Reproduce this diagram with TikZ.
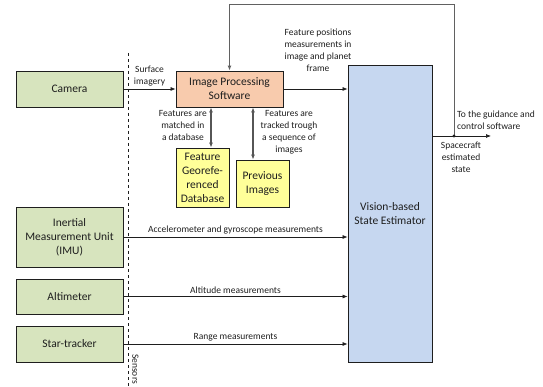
\documentclass[tikz,border=0pt]{standalone}
\usepackage{fontspec}
\setmainfont{Carlito}
\usetikzlibrary{arrows.meta,positioning,calc}
\definecolor{ink}{RGB}{30,30,30}
\definecolor{sensorfill}{RGB}{215,228,190}
\definecolor{procfill}{RGB}{248,203,173}
\definecolor{storefill}{RGB}{255,255,153}
\definecolor{estfill}{RGB}{198,215,240}
\tikzset{
    box/.style={
        rectangle,
        draw=ink,
        line width=0.8pt,
        align=center,
        text=ink,
        inner sep=1pt,
        font=\fontsize{11.5}{14}\selectfont
    },
    sensor/.style={box, fill=sensorfill, minimum width=107pt},
    proc/.style={box, fill=procfill, minimum width=107pt, minimum height=36pt},
    store/.style={box, fill=storefill, minimum width=53pt},
    estimator/.style={box, fill=estfill, minimum width=84pt, minimum height=297pt},
    flow/.style={
        -{Latex[length=5pt,width=4pt]},
        draw=ink,
        line width=0.7pt
    },
    feedback/.style={
        flow,
        draw=ink!70,
        line width=1pt
    },
    exchange/.style={
        {Latex[length=5pt,width=4pt]}-{Latex[length=5pt,width=4pt]},
        draw=ink!75,
        line width=1.1pt
    },
    annot/.style={
        font=\fontsize{9.5}{12}\selectfont,
        text=ink,
        align=center,
        inner sep=1pt
    }
}
\begin{document}
\begin{tikzpicture}[x=1pt, y=-1pt]
\useasboundingbox (0,0) rectangle (543,387);

% Sensors
\node[sensor, minimum height=36pt] (cam) at (69.5, 89) {Camera};
\node[sensor, minimum height=60pt] (imu) at (69.5, 237) {Inertial\\Measurement Unit\\(IMU)};
\node[sensor, minimum height=35pt] (alt) at (69.5, 296.5) {Altimeter};
\node[sensor, minimum height=36pt] (star) at (69.5, 344) {Star-tracker};

% Sensor boundary
\draw[ink, dashed, line width=0.6pt] (128, 53) -- (128, 386);
\node[annot, rotate=-90, anchor=south west] (sens) at (131, 353) {Sensors};

% Image processing
\node[proc] (ips) at (229.5, 89) {Image Processing\\Software};
\node[store, minimum height=59pt] (db) at (202.5, 177.5) {Feature\\Georefe-\\renced\\Database};
\node[store, minimum height=47pt] (prev) at (262.5, 183.5) {Previous\\Images};

% Estimator
\node[estimator] (vse) at (390, 213.5) {Vision-based\\State Estimator};

% Flows
\draw[flow] (cam) -- (ips)
    node[midway, above=2pt, annot] {Surface\\imagery};
\draw[flow] (ips) -- (ips -| vse.west);
\node[annot] (fpos) at (318, 50) {Feature positions\\measurements in\\image and planet\\frame};
\draw[exchange] (db.north -| 211,0) -- (ips.south -| 211,0);
\node[annot, anchor=north east] (match) at (208, 109) {Features are\\matched in\\a database};
\draw[exchange] (prev.north -| 253,0) -- (ips.south -| 253,0);
\node[annot, anchor=north] (track) at (289, 109) {Features are\\tracked trough\\a sequence of\\images};

\draw[flow] (imu) -- (imu -| vse.west)
    node[midway, above=2pt, annot] {Accelerometer and gyroscope  measurements};
\draw[flow] (alt) -- (alt -| vse.west)
    node[midway, above=2pt, annot] {Altitude measurements};
\draw[flow] (star) -- (star -| vse.west)
    node[midway, above=2pt, annot] {Range measurements};

% Output and feedback
\coordinate (jn) at (454, 136);
\coordinate (out) at (491, 136);
\draw[flow] (vse.east |- jn) -- (out);
\draw[feedback] (jn) -- ++(0,-131) -| (ips.north);
\fill[ink] (jn) circle (1.6pt);
\node[annot, anchor=south west, align=left] (gnc) at (456, 131) {To the guidance and\\control software};
\node[annot, anchor=north] (est) at (461, 141) {Spacecraft\\estimated\\state};

\end{tikzpicture}
\end{document}
